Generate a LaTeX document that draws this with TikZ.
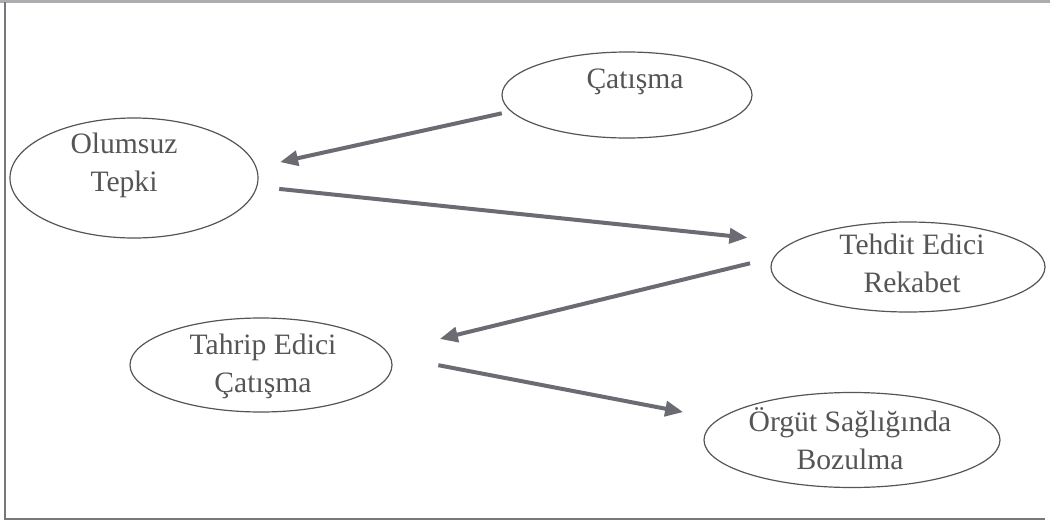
\documentclass[tikz,border=0pt]{standalone}
\usepackage{fontspec}
\setmainfont{Liberation Serif}
\usetikzlibrary{arrows.meta,shapes.geometric}
\definecolor{ink}{HTML}{555555}
\definecolor{arr}{HTML}{6B6B73}
\definecolor{frm}{HTML}{77777D}
\tikzset{bub/.style={ellipse,draw=ink,line width=0.6pt,inner sep=0pt},
 lbl/.style={align=center,text=ink,inner sep=0pt,font=\fontsize{14.8}{19}\selectfont},
 flow/.style={-{Triangle[length=9pt,width=7.5pt]},draw=arr,line width=2pt},
 rim/.style={draw=frm,line width=1.2pt}}

\begin{document}
\begin{tikzpicture}[x=0.5pt,y=-0.5pt]
\useasboundingbox (0,0) rectangle (1050,525);
% frame
\draw[rim,draw=frm!60] (0,1.5)--(1050,1.5);
\draw[rim] (5,2)--(5,519)--(1045,519);
% ellipses
\node[bub,minimum width=125pt,minimum height=43pt](cat) at (627,95){};
\node[bub,minimum width=124pt,minimum height=60pt](olu) at (134,178){};
\node[bub,minimum width=137pt,minimum height=45pt](teh) at (908,267){};
\node[bub,minimum width=131pt,minimum height=47pt](tah) at (261,365){};
\node[bub,minimum width=148pt,minimum height=47.5pt](org) at (852,440){};
% texts
\node[lbl](cat-t) at (635,80.4){Çatışma\strut};
\node[lbl](olu-t) at (124,165){Olumsuz\strut\\Tepki\strut};
\node[lbl](teh-t) at (912,266){Tehdit Edici\strut\\Rekabet\strut};
\node[lbl](tah-t) at (263,366){Tahrip Edici\strut\\Çatışma\strut};
\node[lbl](org-t) at (850,443){Örgüt Sağlığında\strut\\Bozulma\strut};
% arrows
\draw[flow,shorten <=4.5pt,shorten >=12pt](cat.188)--(olu.5);
\draw[flow,shorten <=11pt,shorten >=22.5pt](olu.356)--(teh.168);
\draw[flow,shorten <=12pt,shorten >=27pt](teh.176)--(tah.6);
\draw[flow,shorten <=24.5pt,shorten >=18pt](tah.4)--(org.171.5);
\end{tikzpicture}
\end{document}
